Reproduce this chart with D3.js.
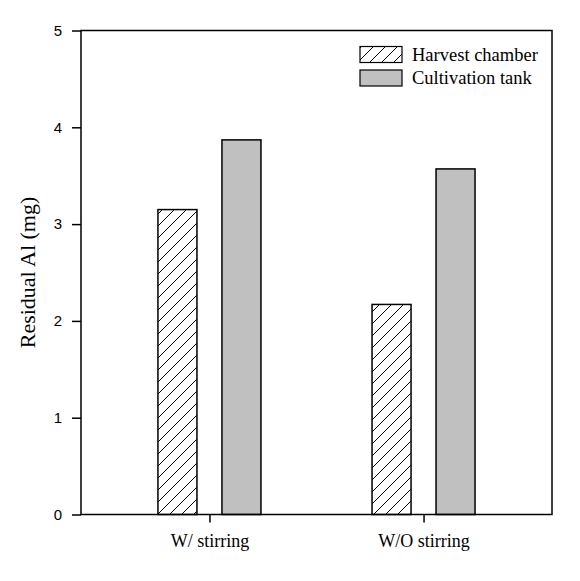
<!DOCTYPE html>
<html><head><meta charset="utf-8">
<script src="https://cdn.jsdelivr.net/npm/d3@7"></script>
<style>body{margin:0;background:#fff}svg{display:block}</style>
</head><body>
<svg id="c" width="580" height="581"></svg>
<script>
const categories = ["W/ stirring", "W/O stirring"];
const seriesNames = ["Harvest chamber", "Cultivation tank"];
const harvestChamber = [3.15, 2.17];
const cultivationTank = [3.87, 3.57];
const yTicks = [0, 1, 2, 3, 4, 5];

const svg = d3.select("#c");
const L = 81, R = 552, T = 30.5, B = 514.5;
const font = "'Liberation Serif','Times New Roman',serif";
const sans = "'Liberation Sans',Arial,sans-serif";

const defs = svg.append("defs");
const pat = defs.append("pattern").attr("id","hatch").attr("patternUnits","userSpaceOnUse")
  .attr("width",12).attr("height",12);
pat.append("path").attr("d","M-1,1 l2,-2 M0,12 l12,-12 M11,13 l2,-2")
  .attr("stroke","#000").attr("stroke-width",1);

const x = d3.scalePoint().domain(categories).range([L,R]).padding(0.6);
const y = d3.scaleLinear().domain([0,5]).range([B,T]);
const barW = 39, gap = 25;
const series = [
  {name: seriesNames[0], values: harvestChamber, fill: "url(#hatch)"},
  {name: seriesNames[1], values: cultivationTank, fill: "#c0c0c0"}
];
const off = [-(gap/2 + barW), gap/2];

series.forEach((s,si)=>{
  svg.append("g").selectAll("rect").data(s.values).join("rect")
    .attr("x",(d,i)=>x(categories[i]) + off[si])
    .attr("y",d=>y(d)).attr("width",barW).attr("height",d=>y(0)-y(d))
    .attr("fill",s.fill).attr("stroke","#000").attr("stroke-width",1.5);
});

// frame
svg.append("rect").attr("x",L).attr("y",T).attr("width",R-L).attr("height",B-T)
  .attr("fill","none").attr("stroke","#000").attr("stroke-width",1.5);

const ya = svg.append("g").attr("transform",`translate(${L},0)`)
  .call(d3.axisLeft(y).tickValues(yTicks).tickSize(9).tickPadding(10).tickFormat(d3.format("d")));
ya.select(".domain").remove();
ya.selectAll("line").attr("stroke-width",1.5);
ya.selectAll("text").attr("font-family",sans).attr("font-size",15).attr("fill","#000");

const xa = svg.append("g").attr("transform",`translate(0,${B})`)
  .call(d3.axisBottom(x).tickSize(8).tickPadding(12));
xa.select(".domain").remove();
xa.selectAll("line").attr("stroke-width",1.5);
xa.selectAll("text").attr("font-family",font).attr("font-size",18).attr("fill","#000");

svg.append("text").attr("transform",`translate(35,${(T+B)/2}) rotate(-90)`)
  .attr("text-anchor","middle").attr("font-family",font).attr("font-size",22)
  .text("Residual Al (mg)");

// legend
const lg = svg.append("g");
series.forEach((s,i)=>{
  const yy = 46.5 + i*23.5;
  lg.append("rect").attr("x",360).attr("y",yy).attr("width",42).attr("height",16)
    .attr("fill",s.fill).attr("stroke","#000").attr("stroke-width",1.2);
  lg.append("text").attr("x",412).attr("y",yy+14).attr("font-family",font)
    .attr("font-size",18.5).text(s.name);
});
</script>
</body></html>
